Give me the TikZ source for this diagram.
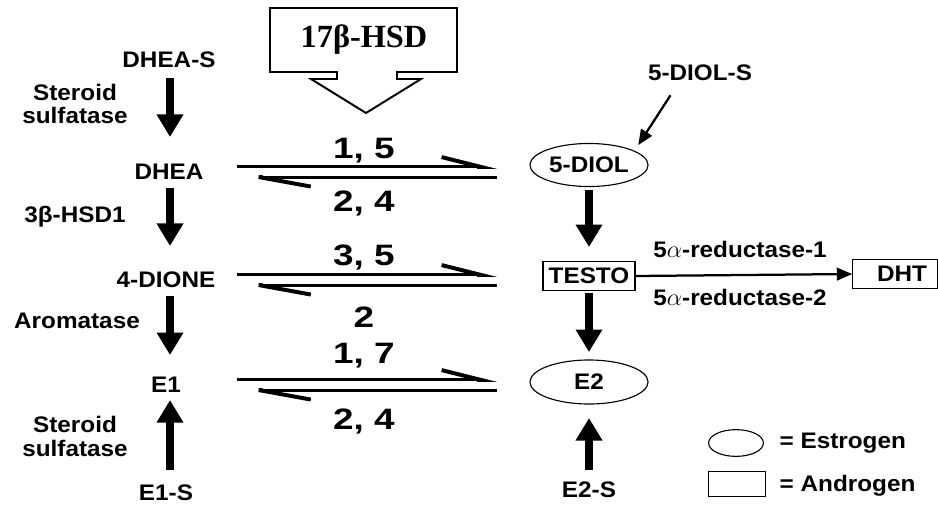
\documentclass[tikz,border=0pt]{standalone}
\usepackage{fontspec}
\setmainfont{Liberation Sans}
\newfontfamily\labfont[FakeStretch=1.08]{Liberation Sans}
\newfontfamily\numfont[FakeStretch=1.25]{Liberation Sans}
\newfontfamily\hsdfont{Liberation Serif}
\usetikzlibrary{arrows.meta,shapes.geometric}

\begin{document}
\begin{tikzpicture}[
    x=0.025cm, y=-0.025cm,
    mol/.style={
      font=\labfont\bfseries\fontsize{16}{17}\selectfont,
      inner sep=1pt
    },
    enz/.style={
      font=\labfont\bfseries\fontsize{16}{17}\selectfont,
      align=center,
      inner sep=1pt
    },
    num/.style={font=\numfont\bfseries\fontsize{21}{24}\selectfont},
    estro/.style={
      draw, ellipse, line width=0.8pt,
      minimum width=84pt, minimum height=31pt, inner sep=0pt
    },
    andro/.style={
      draw, rectangle, line width=0.8pt,
      minimum height=20.6pt, inner sep=1pt
    },
    bigarrow/.style={
      line width=5.5pt,
      -{Triangle[length=16pt,width=18pt]}
    },
    thinarrow/.style={
      line width=1.6pt,
      -{Triangle[length=11pt,width=9pt]}
    },
    fwd/.style={
      line width=2.2pt,
      -{Straight Barb[harpoon,length=28pt,width=14pt,line width=2.8pt]},
      transform canvas={yshift=3.6pt}
    },
    bwd/.style={
      line width=2.2pt,
      -{Straight Barb[harpoon,length=37pt,width=13.5pt,line width=2.8pt]},
      transform canvas={yshift=-3.6pt}
    }
  ]
    \useasboundingbox (0,0) rectangle (938,506);

    % 17beta-HSD callout
    \draw[line width=1.4pt]
      (270,8) -- (457,8) -- (457,72) -- (397,72) -- (397,79) -- (421,79)
      -- (366,113) -- (311,79) -- (337,79) -- (337,72) -- (270,72) -- cycle;
    \node[font=\hsdfont\bfseries\fontsize{23}{26}\selectfont] (hsd) at (364,40) {17β-HSD};

    % left column
    \node[mol] (dheas) at (169,60) {DHEA-S};
    \node[mol] (dhea) at (169,172) {DHEA};
    \node[mol] (dione) at (166,280) {4-DIONE};
    \node[mol] (eone) at (166,385) {E1};
    \node[mol] (eones) at (166,493) {E1-S};

    \node[enz] (sulf1) at (75,104) {Steroid\\sulfatase};
    \node[enz] (hsdone) at (75,217) {3β-HSD1};
    \node[enz] (arom) at (77,321) {Aromatase};
    \node[enz] (sulf2) at (75,436) {Steroid\\sulfatase};

    \draw[bigarrow, shorten <=12.8pt, shorten >=24.9pt] (dheas.center -| 170,0) -- (dhea.center -| 170,0);
    \draw[bigarrow, shorten <=11.4pt, shorten >=24.2pt] (dhea.center -| 170,0) -- (dione.center -| 170,0);
    \draw[bigarrow, shorten <=11.4pt, shorten >=21.3pt] (dione.center -| 170,0) -- (eone.center -| 170,0);
    \draw[bigarrow, shorten <=16.4pt, shorten >=10.7pt] (eones.center -| 170,0) -- (eone.center -| 170,0);

    % right column
    \node[mol] (diols) at (700,73) {5-DIOL-S};
    \node[estro, mol, minimum height=30.6pt] (diol) at (589,165) {5-DIOL};
    \node[andro, mol, minimum width=65.4pt] (testo) at (589,276) {TESTO};
    \node[estro, mol, minimum height=31.3pt] (etwo) at (589,382) {E2};
    \node[mol] (etwos) at (589,490) {E2-S};
    \node[andro, mol, minimum width=60pt] (dht) at (895,274) {\hspace{10pt}DHT};

    \draw[thinarrow] ([xshift=-21pt,yshift=-9pt]diols.south) -- ([shift={(5pt,3pt)}]diol.north east);
    \draw[bigarrow, shorten <=17.8pt, shorten >=20.6pt] (diol.center) -- (testo.center);
    \draw[bigarrow, shorten <=12.1pt, shorten >=21.3pt] (testo.center) -- (etwo.center);
    \draw[bigarrow, shorten <=14.2pt, shorten >=25.6pt] (etwos.center) -- (etwo.center);

    \draw[thinarrow] (testo.east) -- (dht.west);
    \node[enz] (redone) at (740,249) {5$\alpha$-reductase-1};
    \node[enz] (redtwo) at (740,297) {5$\alpha$-reductase-2};

    % equilibria
    \coordinate (eqL) at (237,0);
    \coordinate (eqR) at (497,0);
    \draw[fwd] (eqL |- dhea) -- (eqR |- dhea);
    \draw[bwd] (eqR |- dhea) -- (eqL |- dhea);
    \draw[fwd] (eqL |- dione) -- (eqR |- dione);
    \draw[bwd] (eqR |- dione) -- (eqL |- dione);
    \draw[fwd] (eqL |- eone) -- (eqR |- eone);
    \draw[bwd] (eqR |- eone) -- (eqL |- eone);

    \node[num] (nA) at (364,151) {1, 5};
    \node[num] (nB) at (364,203) {2, 4};
    \node[num] (nC) at (364,257) {3, 5};
    \node[num] (nD) at (364,317) {2};
    \node[num] (nE) at (364,356) {1, 7};
    \node[num] (nF) at (364,421) {2, 4};

    % legend
    \node[estro, minimum width=39pt, minimum height=19pt] (keyE) at (736,443) {};
    \node[andro, minimum width=40.5pt, minimum height=17.8pt] (keyA) at (737,484) {};
    \node[mol, anchor=west] (keyEt) at (778,443) {= Estrogen};
    \node[mol, anchor=west] (keyAt) at (778,486) {= Androgen};
  \end{tikzpicture}
\end{document}
